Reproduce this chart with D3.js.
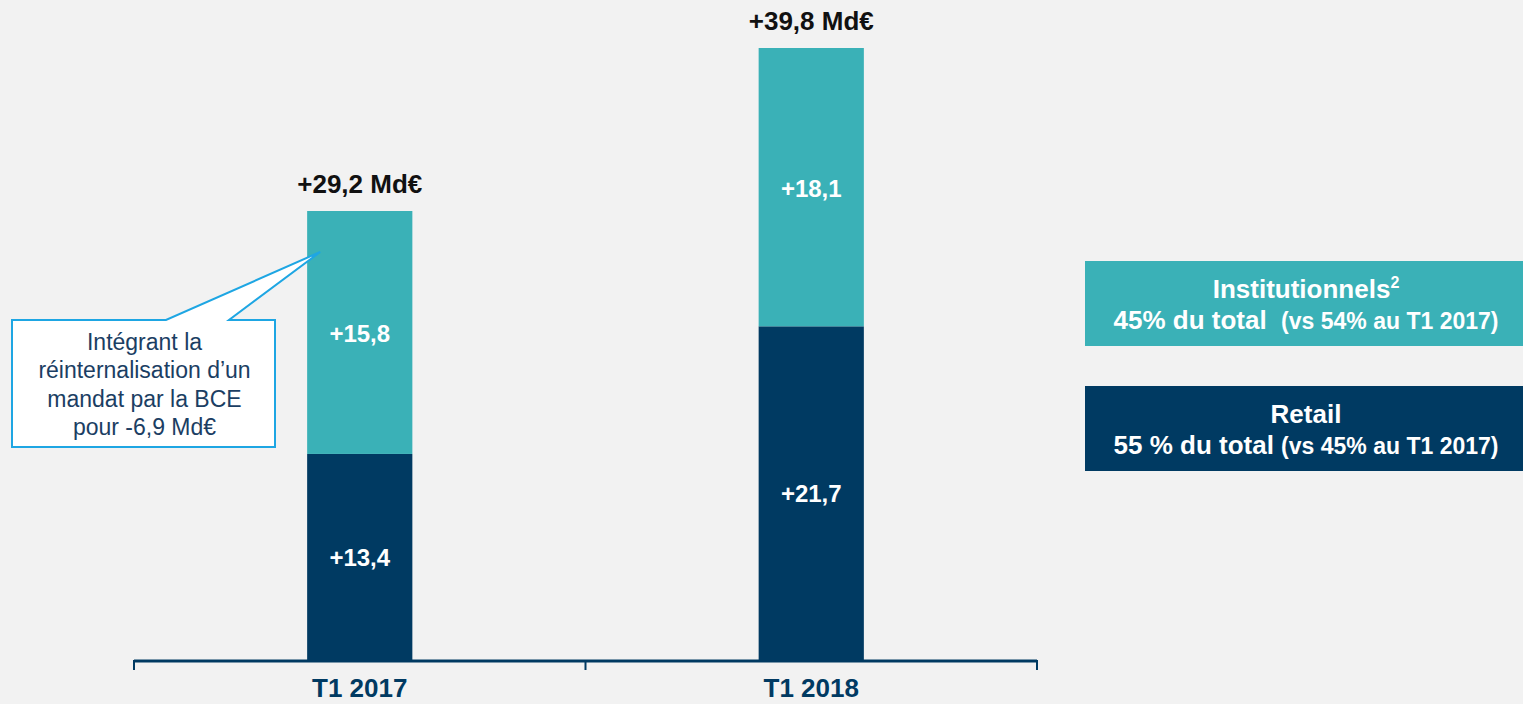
<!DOCTYPE html>
<html>
<head>
<meta charset="utf-8">
<script src="https://cdn.jsdelivr.net/npm/d3@7"></script>
<style>
  body { margin: 0; background: #f2f2f2; }
  svg { display: block; font-family: 'Liberation Sans', Arial, sans-serif; }
</style>
</head>
<body>
<svg id="chart" width="1523" height="704"></svg>
<script>
const periods = ['T1 2017', 'T1 2018'];
const retail = [13.4, 21.7];
const institutionnels = [15.8, 18.1];
const totals = ['+29,2 Md€', '+39,8 Md€'];
const retailLabels = ['+13,4', '+21,7'];
const instLabels = ['+15,8', '+18,1'];
const calloutLines = ['Intégrant la', 'réinternalisation d’un', 'mandat par la BCE', 'pour -6,9 Md€'];

const navy = '#003a62', teal = '#3ab1b7';
const margin = { top: 48, bottom: 44, left: 134, right: 486 },
  width = 1523,
  height = 704;

const svg = d3.select('#chart');

const x = d3.scaleBand()
  .domain(periods)
  .range([margin.left, width - margin.right])
  .paddingInner(0.767)
  .paddingOuter(0.3835);

const y = d3.scaleLinear()
  .domain([0, 39.8])
  .range([height - margin.bottom, margin.top]);

const rows = periods.map((p, i) => ({ p, r: retail[i], ins: institutionnels[i], i }));

// retail segment
svg.selectAll('rect.retail')
  .data(rows)
  .join('rect')
  .attr('class', 'retail')
  .attr('x', d => x(d.p))
  .attr('width', x.bandwidth())
  .attr('y', d => y(d.r))
  .attr('height', d => y(0) - y(d.r))
  .attr('fill', navy);

// institutionnels segment
svg.selectAll('rect.inst')
  .data(rows)
  .join('rect')
  .attr('class', 'inst')
  .attr('x', d => x(d.p))
  .attr('width', x.bandwidth())
  .attr('y', d => y(d.r + d.ins))
  .attr('height', d => y(d.r) - y(d.r + d.ins))
  .attr('fill', teal);

// segment labels
svg.selectAll('text.rl')
  .data(rows)
  .join('text')
  .attr('x', d => x(d.p) + x.bandwidth() / 2)
  .attr('y', d => y(d.r / 2) + 9)
  .attr('text-anchor', 'middle')
  .attr('fill', '#fff')
  .attr('font-weight', 'bold')
  .attr('font-size', 24)
  .text(d => retailLabels[d.i]);

svg.selectAll('text.il')
  .data(rows)
  .join('text')
  .attr('x', d => x(d.p) + x.bandwidth() / 2)
  .attr('y', d => y(d.r + d.ins / 2) + 10)
  .attr('text-anchor', 'middle')
  .attr('fill', '#fff')
  .attr('font-weight', 'bold')
  .attr('font-size', 24)
  .text(d => instLabels[d.i]);

// totals
svg.selectAll('text.tot')
  .data(rows)
  .join('text')
  .attr('x', d => x(d.p) + x.bandwidth() / 2)
  .attr('y', d => y(d.r + d.ins) - 18)
  .attr('text-anchor', 'middle')
  .attr('fill', '#111')
  .attr('font-weight', 'bold')
  .attr('font-size', 26)
  .text(d => totals[d.i]);

// x axis
const axisY = y(0);
svg.append('line')
  .attr('x1', margin.left).attr('x2', width - margin.right)
  .attr('y1', axisY + 1).attr('y2', axisY + 1)
  .attr('stroke', navy).attr('stroke-width', 3);

const tickXs = [margin.left, (margin.left + width - margin.right) / 2, width - margin.right];
svg.selectAll('line.tick')
  .data(tickXs)
  .join('line')
  .attr('x1', d => d).attr('x2', d => d)
  .attr('y1', axisY).attr('y2', axisY + 10)
  .attr('stroke', navy).attr('stroke-width', 2);

svg.selectAll('text.cat')
  .data(periods)
  .join('text')
  .attr('x', d => x(d) + x.bandwidth() / 2)
  .attr('y', axisY + 37)
  .attr('text-anchor', 'middle')
  .attr('fill', navy)
  .attr('font-weight', 'bold')
  .attr('font-size', 26)
  .text(d => d);

// callout
const cx = 12, cy = 320, cw = 263, ch = 127;
const tip = [x(periods[0]) + 13, y(retail[0] + institutionnels[0]) + 41];
svg.append('path')
  .attr('d', `M${cx},${cy} H${cx + 154} L${tip[0]},${tip[1]} L${cx + 217},${cy} H${cx + cw} V${cy + ch} H${cx} Z`)
  .attr('fill', '#fff')
  .attr('stroke', '#1ea6e3')
  .attr('stroke-width', 2);

svg.append('text')
  .attr('text-anchor', 'middle')
  .attr('fill', '#1b3e63')
  .attr('font-size', 23)
  .selectAll('tspan')
  .data(calloutLines)
  .join('tspan')
  .attr('x', cx + cw / 2 + 1)
  .attr('y', (d, i) => cy + 30 + i * 28.3)
  .text(d => d);

// legend boxes
const legend = [
  { fill: teal, y: 261, l1: 'Institutionnels', sup: '2', l2: '45% du total  ', l2s: '(vs 54% au T1 2017)' },
  { fill: navy, y: 386, l1: 'Retail', sup: '', l2: '55 % du total ', l2s: '(vs 45% au T1 2017)' }
];
const lg = svg.selectAll('g.leg')
  .data(legend)
  .join('g')
  .attr('transform', d => `translate(1085,${d.y})`);

lg.append('rect')
  .attr('width', 438)
  .attr('height', 85)
  .attr('fill', d => d.fill);

const t1 = lg.append('text')
  .attr('x', 221).attr('y', 37)
  .attr('text-anchor', 'middle')
  .attr('fill', '#fff')
  .attr('font-weight', 'bold')
  .attr('font-size', 26);
t1.append('tspan').text(d => d.l1);
t1.append('tspan').attr('dy', -10).attr('font-size', 16).text(d => d.sup);

const t2 = lg.append('text')
  .attr('x', 221).attr('y', 68)
  .attr('text-anchor', 'middle')
  .attr('fill', '#fff')
  .attr('font-weight', 'bold')
  .attr('font-size', 26)
  .style('white-space', 'pre');
t2.append('tspan').text(d => d.l2);
t2.append('tspan').attr('font-size', 23).text(d => d.l2s);
</script>
</body>
</html>
